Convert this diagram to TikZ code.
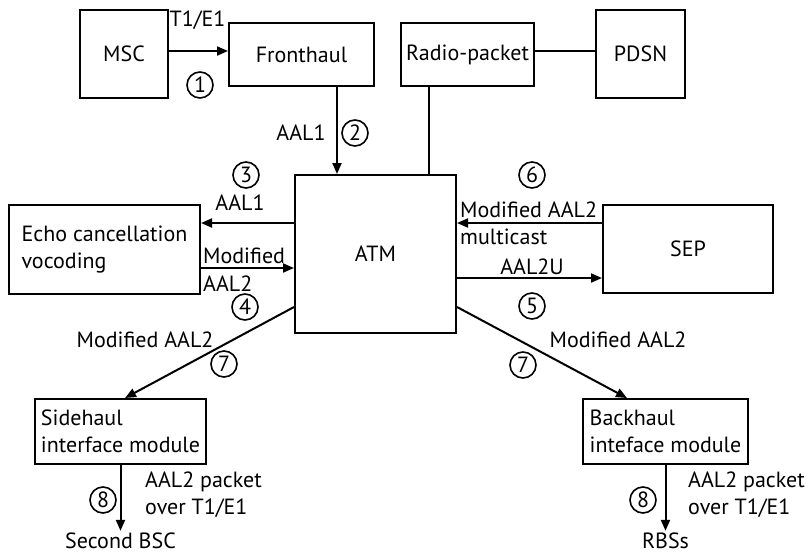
\documentclass[tikz,border=0pt]{standalone}
\usepackage{fontspec}
\setmainfont{PT Sans}
\usetikzlibrary{arrows.meta}
\tikzset{
  box/.style={draw, line width=2pt, inner sep=0pt, align=left, font=\fs},
  lbl/.style={inner sep=0pt, align=left, font=\fs},
  num/.style={draw, circle, line width=1.6pt, minimum size=26pt, inner sep=0pt, font=\fs},
  arr/.style={line width=2pt, -{Triangle[length=11pt,width=9pt]}},
  ln/.style={line width=2pt}
}
\newcommand{\fs}{\fontsize{22}{27}\selectfont}
\begin{document}
\begin{tikzpicture}[x=1pt,y=-1pt]
\useasboundingbox (0,0) rectangle (809,555);
% boxes
\node[box, minimum width=88pt, minimum height=88pt] (msc) at (124,54) {MSC};
\node[box, minimum width=145pt, minimum height=63pt] (fh) at (301.5,54.5) {Fronthaul};
\node[box, minimum width=133pt, minimum height=63pt] (rp) at (467.5,54.5) {Radio-packet};
\node[box, minimum width=89pt, minimum height=88pt] (pdsn) at (640.5,54) {PDSN};
\node[box, minimum width=161pt, minimum height=158pt] (atm) at (375.5,254) {ATM};
\node[box, minimum width=191pt, minimum height=89pt] (echo) at (104.5,249.5) {Echo cancellation\\vocoding};
\node[box, minimum width=170pt, minimum height=88pt] (sep) at (688,249) {SEP};
\node[box, minimum width=171pt, minimum height=65pt] (side) at (120.5,431.5) {Sidehaul\\interface module};
\node[box, minimum width=165pt, minimum height=65pt] (back) at (665.5,431.5) {Backhaul\\inteface module};
\node[lbl] (bsc) at (120.5,541) {Second BSC};
\node[lbl] (rbs) at (665.5,541) {RBSs};
% connectors
\draw[arr] ([yshift=3]msc.east) -- ([yshift=3]msc.east -| fh.west);
\draw[arr] ([xshift=35.5]fh.south) -- ([xshift=35.5]fh.south |- atm.north);
\draw[ln] ([xshift=-38.5]rp.south) -- ([xshift=-38.5]rp.south |- atm.north);
\draw[ln] ([yshift=3.5]rp.east) -- ([yshift=3.5]rp.east -| pdsn.west);
\draw[arr] ([yshift=31]atm.west) -- ([yshift=31]atm.west -| echo.east);
\draw[arr] ([yshift=-14]atm.west -| echo.east) -- ([yshift=-14]atm.west);
\draw[arr] ([yshift=31]atm.east -| sep.west) -- ([yshift=31]atm.east);
\draw[arr] ([yshift=-24]atm.east) -- ([yshift=-24]atm.east -| sep.west);
\draw[arr] ([yshift=-53]atm.west) -- ([xshift=4.5]side.north);
\draw[arr] ([yshift=-53]atm.east) -- ([xshift=-38.5]back.north);
\draw[arr] (side.south) -- ([yshift=2]bsc.north);
\draw[arr] (back.south) -- ([yshift=2]rbs.north);
% labels
\node[lbl] (t1) at (197.5,20) {T1/E1};
\node[num] (n1) at (200,85) {1};
\node[lbl] (aal1a) at (301,133) {AAL1};
\node[num] (n2) at (355,133) {2};
\node[num] (n3) at (246,175) {3};
\node[lbl] (aal1b) at (240,203) {AAL1};
\node[lbl, anchor=west] (mod) at (203,256) {Modified};
\node[lbl, anchor=west] (aal2) at (203,284) {AAL2};
\node[num] (n4) at (245,307) {4};
\node[num] (n6) at (532,175) {6};
\node[lbl, anchor=west] (modm) at (460,210) {Modified AAL2};
\node[lbl, anchor=west] (mc) at (460,237) {multicast};
\node[lbl] (aal2u) at (532,267) {AAL2U};
\node[num] (n5) at (532,306) {5};
\node[lbl] (mal) at (145,340) {Modified AAL2};
\node[num] (n7a) at (224,364) {7};
\node[lbl] (mar) at (618,340) {Modified AAL2};
\node[num] (n7b) at (523,365) {7};
\node[num] (n8a) at (103,500) {8};
\node[lbl, anchor=west] (pa) at (145,495) {AAL2 packet\\over T1/E1};
\node[num] (n8b) at (643,500) {8};
\node[lbl, anchor=west] (pb) at (688,495) {AAL2 packet\\over T1/E1};
\end{tikzpicture}
\end{document}
